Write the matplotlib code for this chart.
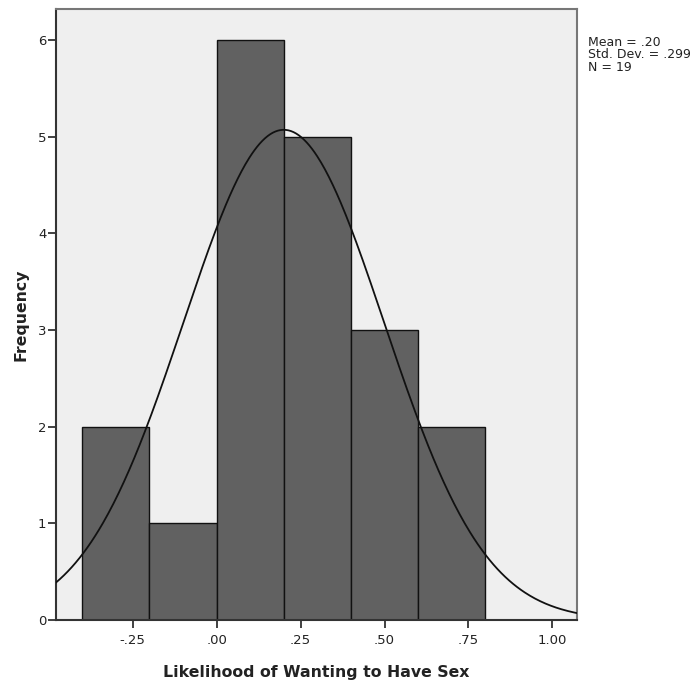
import numpy as np
import matplotlib
matplotlib.use("Agg")
import matplotlib.pyplot as plt

# Histogram bins (bin edges) and observed frequencies
bin_edges = [-0.4, -0.2, 0.0, 0.2, 0.4, 0.6, 0.8]
frequencies = [2, 1, 6, 5, 3, 2]

# Summary statistics
mean_val = 0.20
std_val = 0.299
n_val = 19

x_ticks = [-0.25, 0.0, 0.25, 0.5, 0.75, 1.0]
x_tick_labels = ["-.25", ".00", ".25", ".50", ".75", "1.00"]
y_ticks = [0, 1, 2, 3, 4, 5, 6]

plt.rcParams["font.family"] = ["DejaVu Sans"]

fig = plt.figure(figsize=(6.94, 6.85), dpi=100)
ax = fig.add_axes([0.0807, 0.0949, 0.7507, 0.892])
ax.set_facecolor("#efefef")

lefts = np.array(bin_edges[:-1])
widths = np.diff(bin_edges)
ax.bar(lefts, frequencies, width=widths, align="edge",
       color="#616161", edgecolor="#111111", linewidth=1.0, zorder=2)

# Fitted normal curve scaled to counts
xmin, xmax = -0.478, 1.073
xs = np.linspace(xmin, xmax, 400)
bw = widths[0]
ys = n_val * bw / (std_val * np.sqrt(2 * np.pi)) * np.exp(-0.5 * ((xs - mean_val) / std_val) ** 2)
ax.plot(xs, ys, color="#111111", linewidth=1.3, zorder=3)

ax.set_xlim(xmin, xmax)
ax.set_ylim(0, 6.32)
ax.set_xticks(x_ticks)
ax.set_xticklabels(x_tick_labels)
ax.set_yticks(y_ticks)

for s in ["left", "bottom"]:
    ax.spines[s].set_color("#333333")
    ax.spines[s].set_linewidth(1.5)
for s in ["top", "right"]:
    ax.spines[s].set_color("#777777")
    ax.spines[s].set_linewidth(1.5)

ax.tick_params(axis="both", direction="out", length=6, width=1.3,
               color="#333333", labelsize=9.5, labelcolor="#222222", pad=1)
ax.tick_params(axis="x", pad=4)

ax.set_xlabel("Likelihood of Wanting to Have Sex", fontsize=11.3,
              fontweight="bold", color="#222222", labelpad=13)
ax.set_ylabel("Frequency", fontsize=11.3, fontweight="bold",
              color="#222222", labelpad=7)

fig.text(588 / 694, 1 - 36 / 685,
         f"Mean = .20\nStd. Dev. = .299\nN = {n_val}",
         fontsize=9, color="#222222", va="top", ha="left", linespacing=0.95)

fig.savefig("out.png", dpi=100, facecolor="white")
